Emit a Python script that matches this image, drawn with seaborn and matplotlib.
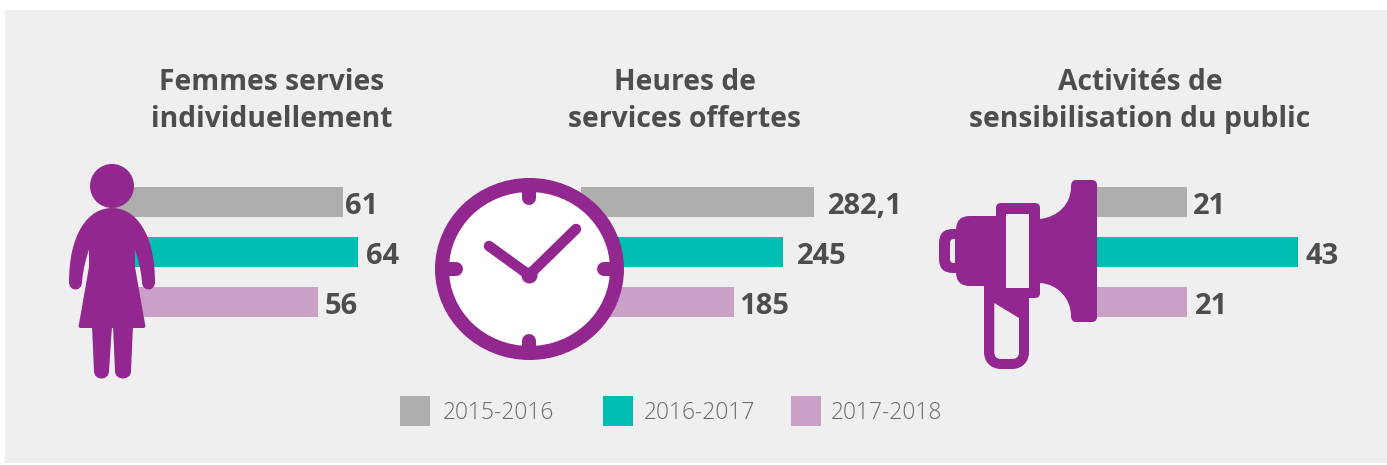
import pandas as pd
import matplotlib
matplotlib.use('Agg')
import matplotlib.pyplot as plt
import seaborn as sns
from matplotlib.patches import Rectangle, Circle, Ellipse, PathPatch, FancyBboxPatch
from matplotlib.path import Path

# data
annees = ['2015-2016', '2016-2017', '2017-2018']
femmes = [61, 64, 56]
heures = [282.1, 245, 185]
activites = [21, 43, 21]
femmes_labels = ['61', '64', '56']
heures_labels = ['282,1', '245', '185']
activites_labels = ['21', '43', '21']
titres = ['Femmes servies\nindividuellement',
          'Heures de\nservices offertes',
          'Activités de\nsensibilisation du public']

W, H = 1387, 465
GRIS, TURQUOISE, MAUVE = '#AEAEAE', '#00BFB2', '#C9A0C6'
VIOLET = '#92278F'
FOND = '#EFEFEF'
TEXTE = '#4D4D4D'
FONT = 'Open Sans'
px = 72 / 100  # one pixel in points

sns.set_theme(style='white')
plt.rcParams['font.family'] = [FONT, 'DejaVu Sans']

fig = plt.figure(figsize=(W / 100, H / 100), dpi=100, facecolor='white')

# grey panel behind everything
fond = fig.add_axes([0, 0, 1, 1], zorder=0)
fond.set_xlim(0, W)
fond.set_ylim(H, 0)
fond.axis('off')
fond.add_patch(Rectangle((5, 10), W - 5, 453, color=FOND, lw=0))


def panneau(valeurs, labels, left, right, x0, x1, pads):
    """One bar panel, left/right in pixels, x0/x1 the value limits."""
    ax = fig.add_axes([left / W, 1 - 327 / H, (right - left) / W, 150 / H], zorder=1)
    df = pd.DataFrame({'annee': annees, 'valeur': valeurs})
    sns.barplot(data=df, x='valeur', y='annee', hue='annee', hue_order=annees,
                palette=[GRIS, TURQUOISE, MAUVE], dodge=False, width=0.6,
                saturation=1, legend=False, linewidth=0, ax=ax)
    ax.set_xlim(x0, x1)
    ax.set_ylim(2.5, -0.5)
    ax.axis('off')
    for i, (v, lab, pad) in enumerate(zip(valeurs, labels, pads)):
        ax.annotate(lab, (v, i), xytext=(pad * px, -4.5 * px), textcoords='offset points',
                    ha='left', va='center', fontsize=21, fontweight='bold', color=TEXTE)
    return ax


panneau(femmes, femmes_labels, 113, 420, 15, 76.4, [2, 8, 7])
panneau(heures, heures_labels, 581, 930, 0, 422.5, [14, 14, 5])
panneau(activites, activites_labels, 1081, 1370, 0, 57.2, [6, 7, 8])

# overlay in pixel coordinates for titles, icons and legend
top = fig.add_axes([0, 0, 1, 1], zorder=2)
top.set_xlim(0, W)
top.set_ylim(H, 0)
top.axis('off')
top.patch.set_alpha(0)

for xc, titre in zip([272, 685, 1140], titres):
    top.text(xc, 101, titre, ha='center', va='center', fontsize=20.3, fontweight='bold',
             color=TEXTE, linespacing=1.33)

# legend, spacing is uneven in the original
for xs, xt, an, c in zip([400, 603, 791], [443, 644, 831], annees, [GRIS, TURQUOISE, MAUVE]):
    top.add_patch(Rectangle((xs, 396), 30, 30, color=c, lw=0))
    top.text(xt, 413, an, ha='left', va='center', fontsize=16.4, fontweight='light', color='#6B6B6B')


def forme(verts_codes, **kw):
    verts = [p for p, _ in verts_codes]
    codes = [c for _, c in verts_codes]
    top.add_patch(PathPatch(Path(verts, codes), lw=0, **kw))


M, L, C, Z = Path.MOVETO, Path.LINETO, Path.CURVE4, Path.CLOSEPOLY


def courbe(p1, p2, p3):
    return [(p1, C), (p2, C), (p3, C)]


# woman
top.add_patch(Circle((112, 186), 22, color=VIOLET, lw=0))
corps = [((112, 208), M)]
corps += courbe((136, 208), (155, 234), (155, 282))
corps += courbe((155, 292), (142, 292), (142, 282))
corps += courbe((141, 270), (138, 258), (135, 250))
corps += [((135, 267), L), ((145, 324), L)]
corps += courbe((146, 327), (145, 328), (143, 328))
corps += [((81, 328), L)]
corps += courbe((79, 328), (78, 327), (79, 324))
corps += [((89, 267), L), ((89, 250), L)]
corps += courbe((86, 258), (83, 270), (82, 282))
corps += courbe((82, 292), (69, 292), (69, 282))
corps += courbe((69, 234), (88, 208), (112, 208))
corps += [((112, 208), Z)]
forme(corps, color=VIOLET)
for a, b, c, d in [(92, 112, 109, 94), (113, 133, 131, 115)]:
    jambe = [((a, 326), M), ((b, 326), L), ((c, 371), L)]
    jambe += courbe((c, 381), (d, 381), (d, 371))
    jambe += [((a, 326), Z)]
    forme(jambe, color=VIOLET)

# clock, slightly squashed in the original
top.add_patch(Ellipse((529.5, 269), 175, 168, facecolor='white', edgecolor=VIOLET, lw=14 * px))
for x1, y1, x2, y2 in [(529, 185, 529, 198), (529, 353, 529, 341), (445, 269, 456, 269), (613, 269, 604, 269)]:
    top.plot([x1, x2], [y1, y2], color=VIOLET, lw=14 * px, solid_capstyle='round')
top.plot([529, 576], [275, 229], color=VIOLET, lw=10.5 * px, solid_capstyle='round')
top.plot([529, 489], [275, 246], color=VIOLET, lw=10.5 * px, solid_capstyle='round')
top.add_patch(Circle((529.5, 275.5), 8, color=VIOLET, lw=0))

# megaphone
pavillon = [((1040, 219), M)]
pavillon += courbe((1058, 217), (1071, 204), (1071, 187))
pavillon += courbe((1071, 182), (1073, 180), (1076, 180))
pavillon += [((1092, 180), L)]
pavillon += courbe((1095, 180), (1097, 182), (1097, 185))
pavillon += [((1097, 317), L)]
pavillon += courbe((1097, 320), (1095, 322), (1092, 322))
pavillon += [((1076, 322), L)]
pavillon += courbe((1073, 322), (1071, 320), (1071, 316))
pavillon += courbe((1071, 299), (1058, 284), (1040, 283))
pavillon += [((1040, 219), Z)]
forme(pavillon, color=VIOLET)


def arrondi(x, y, w, h, r, **kw):
    top.add_patch(FancyBboxPatch((x + r, y + r), w - 2 * r, h - 2 * r,
                                 boxstyle=f'round,pad={r},rounding_size={r}', lw=0, **kw))


arrondi(996, 203, 44, 95, 5, color=VIOLET)
arrondi(956, 216, 60, 70, 14, color=VIOLET)
arrondi(939, 229, 30, 44, 14, color=VIOLET)
arrondi(950, 239, 12, 24, 4, color=FOND)
top.add_patch(Rectangle((955, 232), 12, 40, color=VIOLET, lw=0))
# handle
poignee = [((984, 284), M), ((1029, 284), L), ((1029, 352), L)]
poignee += courbe((1029, 362), (1022, 369), (1012, 369))
poignee += [((1001, 369), L)]
poignee += courbe((991, 369), (984, 362), (984, 352))
poignee += [((984, 284), Z)]
forme(poignee, color=VIOLET)
top.add_patch(Rectangle((1006, 214), 23, 74, color=FOND, lw=0))
trou = [((994.3, 303), M), ((1019, 318), L), ((1019, 352), L)]
trou += courbe((1019, 357), (1016, 359), (1012, 359))
trou += [((1001, 359), L)]
trou += courbe((997, 359), (994.3, 357), (994.3, 352))
trou += [((994.3, 303), Z)]
forme(trou, color=FOND)

fig.savefig('out.png', dpi=100, facecolor='white')
